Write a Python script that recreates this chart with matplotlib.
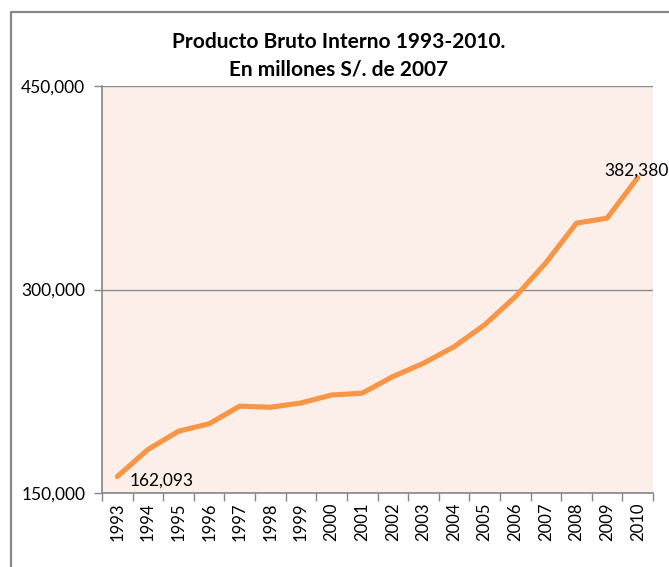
import matplotlib
matplotlib.use("Agg")
import matplotlib.pyplot as plt
from matplotlib.lines import Line2D
from matplotlib.ticker import FuncFormatter, FixedLocator

years = ["1993", "1994", "1995", "1996", "1997", "1998", "1999", "2000", "2001",
         "2002", "2003", "2004", "2005", "2006", "2007", "2008", "2009", "2010"]
pbi = [162093, 182044, 195536, 201009, 214028, 213190, 216377, 222207, 223580,
       235773, 245593, 257770, 273971, 294598, 319693, 348923, 352584, 382380]
yticks = [150000, 300000, 450000]
title = "Producto Bruto Interno 1993-2010.\nEn millones S/. de 2007"

W, H = 669, 567
fig = plt.figure(figsize=(W / 100, H / 100), dpi=100)
fig.patch.set_facecolor("white")
plt.rcParams['font.family'] = ['Lato', 'DejaVu Sans']

left, right, top, bottom = 102, 653, 86, 493
ax = fig.add_axes([left / W, 1 - bottom / H, (right - left) / W, (bottom - top) / H])
ax.set_facecolor("#FCEEE9")

x = list(range(len(years)))
ax.plot(x, pbi, color="#F79646", lw=3.7, solid_capstyle="round", solid_joinstyle="round", zorder=3)
ax.set_xlim(-0.5, len(years) - 0.5)
ax.set_ylim(150000, 450000)

ax.set_yticks(yticks)
ax.yaxis.set_major_formatter(FuncFormatter(lambda v, p: f"{int(v):,}"))
ax.set_xticks(x)
ax.set_xticklabels(years, rotation=90, fontsize=12)
ax.tick_params(axis="x", which="major", length=0, pad=7)
ax.xaxis.set_minor_locator(FixedLocator([i - 0.5 for i in range(len(years) + 1)]))
ax.tick_params(axis="x", which="minor", length=6, color="#868686", width=1)
ax.tick_params(axis="y", length=6, color="#868686", width=1, labelsize=12.5, pad=6)

ax.grid(axis="y", color="#8C8C8C", lw=1)
for s in ["top", "right"]:
    ax.spines[s].set_visible(False)
for s in ["left", "bottom"]:
    ax.spines[s].set_color("#868686")
    ax.spines[s].set_linewidth(1.2)

ax.annotate(f"{pbi[0]:,}", (x[0], pbi[0]), xytext=(9, -3), textcoords="offset points",
            ha="left", va="center", fontsize=12.5)
ax.annotate(f"{pbi[-1]:,}", (x[-1], pbi[-1]), xytext=(-1, 5), textcoords="offset points",
            ha="center", va="center", fontsize=12.5)

fig.text(339 / W, 1 - 56 / H, title, ha="center", va="center", fontsize=15,
         fontweight="bold", linespacing=1.5)

fig.add_artist(Line2D([10.5 / W, 10.5 / W, 1.0], [0, 1 - 11.7 / H, 1 - 11.7 / H],
                      transform=fig.transFigure, color="#878787", lw=1.6))

fig.savefig("out.png", dpi=100)
